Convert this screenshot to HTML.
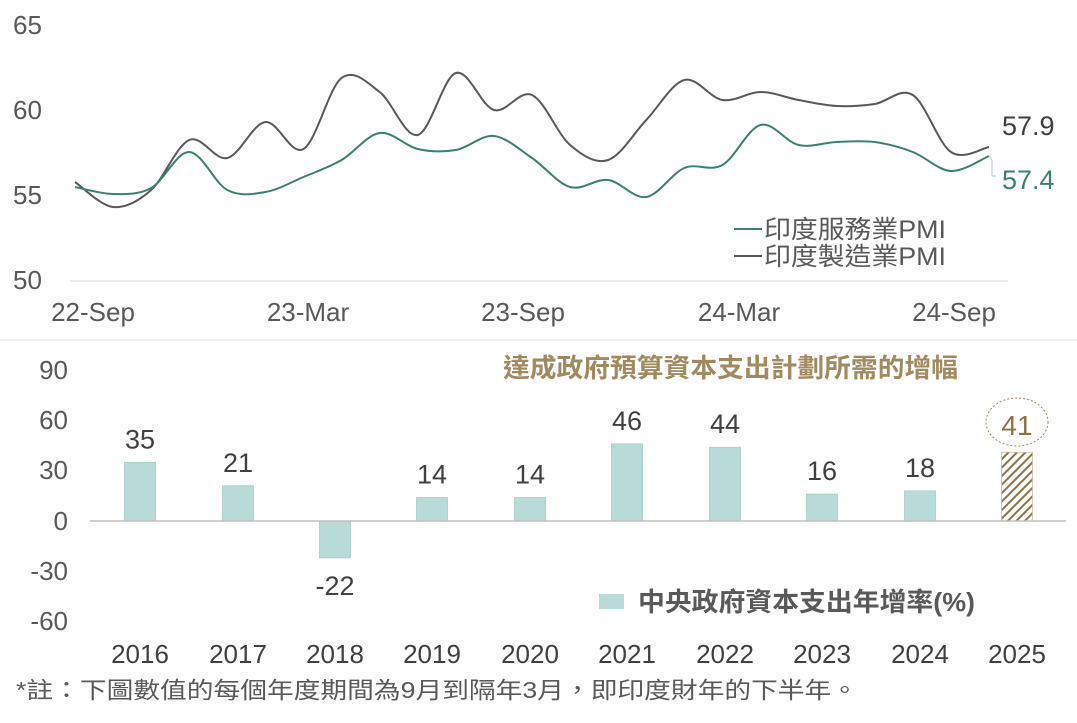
<!DOCTYPE html>
<html><head><meta charset="utf-8"><style>
html,body{margin:0;padding:0;background:#fff;}
svg text{font-family:"Liberation Sans","Noto Sans CJK TC",sans-serif;}
</style></head><body>
<svg id="s" width="1077" height="718" viewBox="0 0 1077 718" xmlns="http://www.w3.org/2000/svg">
<rect width="1077" height="718" fill="#fff"/>
<g font-size="26" fill="#595959" text-anchor="start">
<text x="13" y="34">65</text><text x="13" y="119">60</text><text x="13" y="204">55</text><text x="13" y="289">50</text>
</g>
<line x1="70" y1="281" x2="1008" y2="281" stroke="#d9d9d9" stroke-width="1"/>
<g font-size="26" fill="#595959" text-anchor="middle">
<text x="93" y="321">22-Sep</text><text x="308" y="321">23-Mar</text><text x="523" y="321">23-Sep</text><text x="739" y="321">24-Mar</text><text x="954" y="321">24-Sep</text>
</g>
<path id="gray" fill="none" stroke="#595959" stroke-width="2"/>
<path id="green" fill="none" stroke="#3d7f72" stroke-width="2"/>
<polyline points="989,156 992,160 992,176 996,176" fill="none" stroke="#a9cfc8" stroke-width="1"/>
<text x="1002" y="135" font-size="27" fill="#404040">57.9</text>
<text x="1002" y="189" font-size="27" fill="#3d7f72">57.4</text>
<line x1="734" y1="229" x2="762" y2="229" stroke="#3d7f72" stroke-width="2"/>
<text x="764" y="238" font-size="25" fill="#595959" textLength="182" lengthAdjust="spacingAndGlyphs">印度服務業PMI</text>
<line x1="734" y1="256" x2="762" y2="256" stroke="#595959" stroke-width="2"/>
<text x="764" y="265" font-size="25" fill="#595959" textLength="182" lengthAdjust="spacingAndGlyphs">印度製造業PMI</text>
<line x1="0" y1="340" x2="1077" y2="340" stroke="#e6e6e6" stroke-width="1"/>
<g font-size="26" fill="#595959" text-anchor="end">
<text x="68" y="379">90</text><text x="68" y="429">60</text><text x="68" y="479">30</text><text x="68" y="530">0</text><text x="68" y="580">-30</text><text x="68" y="630">-60</text>
</g>
<text x="503" y="377" font-size="26" font-weight="bold" fill="#a08a5f" textLength="455" lengthAdjust="spacingAndGlyphs">達成政府預算資本支出計劃所需的增幅</text>
<defs><pattern id="h" width="6" height="6" patternUnits="userSpaceOnUse" patternTransform="rotate(45)"><rect width="6" height="6" fill="#fff"/><rect width="2" height="6" fill="#8a7348"/></pattern></defs>
<g id="bars"></g>
<line x1="90" y1="521" x2="1066" y2="521" stroke="#bfbfbf" stroke-width="1.5"/>
<ellipse cx="1017" cy="422" rx="31" ry="24" fill="none" stroke="#a08a5f" stroke-dasharray="2,2" stroke-width="1"/>
<text x="1017" y="435" font-size="28" fill="#8a7348" text-anchor="middle">41</text>
<rect x="599" y="594" width="25" height="15" fill="#b8dbd7"/>
<text x="638" y="611" font-size="26" font-weight="bold" fill="#595959" textLength="337" lengthAdjust="spacingAndGlyphs">中央政府資本支出年增率(%)</text>
<g font-size="26" fill="#404040" text-anchor="middle" id="yrs"></g>
<text x="16" y="698" font-size="23" fill="#595959" textLength="842" lengthAdjust="spacingAndGlyphs">*註：下圖數值的每個年度期間為9月到隔年3月，即印度財年的下半年。</text>
</svg>
<script>
var xs=[];for(var i=0;i<25;i++)xs.push(75+i*(914/24));
var gy=[182,207,190,140,158,122,149,78,92,135,73,110,95,145,160,120,80,100,92,100,106,104,95,152,147];
var ny=[187,194,188,152,190,192,177,160,133,149,150,136,158,187,180,197,168,165,125,145,142,142,152,171,156];
function sp(ys){var p=xs.map(function(x,i){return[x,ys[i]]});var d="M"+p[0][0]+","+p[0][1];
for(var i=0;i<p.length-1;i++){var p0=p[i-1]||p[i],p1=p[i],p2=p[i+1],p3=p[i+2]||p2;
var t=6;d+=" C"+(p1[0]+(p2[0]-p0[0])/t)+","+(p1[1]+(p2[1]-p0[1])/t)+" "+(p2[0]-(p3[0]-p1[0])/t)+","+(p2[1]-(p3[1]-p1[1])/t)+" "+p2[0]+","+p2[1];}return d;}
document.getElementById("gray").setAttribute("d",sp(gy));
document.getElementById("green").setAttribute("d",sp(ny));
var yrs=[2016,2017,2018,2019,2020,2021,2022,2023,2024,2025],vals=[35,21,-22,14,14,46,44,16,18,41];
var cx=[140,238,335,432,530,627,725,822,920,1017];var b="",t="";
for(var i=0;i<10;i++){var h=vals[i]*50.3/30;var y=h>=0?521-h:521;
b+='<rect x="'+(cx[i]-15.5)+'" y="'+y+'" width="31" height="'+Math.abs(h)+'" fill="'+(i==9?'url(#h)':'#b8dbd7')+'" stroke="'+(i==9?'#c9bfa8':'#a9cbc6')+'" stroke-width="0.8"/>';
if(i<9){var ly=h>=0?521-h-14:521-h+37;b+='<text x="'+cx[i]+'" y="'+ly+'" font-size="27" fill="#404040" text-anchor="middle">'+vals[i]+'</text>';}
t+='<text x="'+cx[i]+'" y="663">'+yrs[i]+'</text>';}
document.getElementById("bars").innerHTML=b;document.getElementById("yrs").innerHTML=t;
</script>
</body></html>
